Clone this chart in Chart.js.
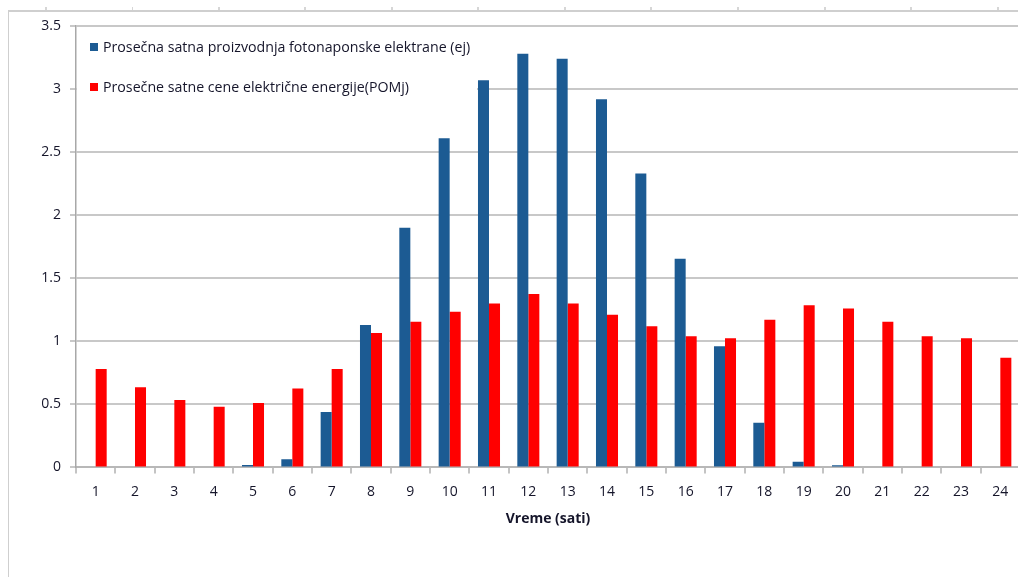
<!DOCTYPE html>
<html>
<head>
<meta charset="utf-8">
<script src="https://cdn.jsdelivr.net/npm/chart.js@4.4.0/dist/chart.umd.min.js"></script>
<style>
  html, body { margin: 0; padding: 0; background: #fff; overflow: hidden; width: 1018px; height: 577px; }
  #frame { position: absolute; left: 8px; top: 10px; width: 1100px; height: 600px;
           border-left: 1.5px solid #cfcfcf; border-top: 2px solid #cfcfcf; }
  #ruler { position: absolute; left: 0; top: 7px; width: 1018px; height: 3px;
           background: repeating-linear-gradient(to right, transparent 0 45px, #d6d6d6 45px 47px, transparent 47px 86.5px); }
  #wrap { position: absolute; left: 0; top: 0; width: 1020px; height: 577px; }
</style>
</head>
<body>
<div id="ruler"></div>
<div id="frame"></div>
<div id="wrap"><canvas id="c" width="1020" height="577"></canvas></div>
<script>
const hours = ['1','2','3','4','5','6','7','8','9','10','11','12','13','14','15','16','17','18','19','20','21','22','23','24'];
const production = [0, 0, 0, 0, 0.02, 0.065, 0.44, 1.13, 1.90, 2.61, 3.07, 3.28, 3.24, 2.92, 2.33, 1.655, 0.96, 0.355, 0.044, 0.017, 0, 0, 0, 0];
const price = [0.78, 0.635, 0.535, 0.48, 0.51, 0.625, 0.78, 1.065, 1.155, 1.235, 1.30, 1.375, 1.30, 1.21, 1.12, 1.04, 1.025, 1.17, 1.285, 1.26, 1.155, 1.04, 1.025, 0.87];
const yTickLabels = ['0', '0.5', '1', '1.5', '2', '2.5', '3', '3.5'];
const seriesNames = ['Prosečna satna proizvodnja fotonaponske elektrane (ej)', 'Prosečne satne cene električne energije(POMj)'];
const xTitle = 'Vreme (sati)';

const FONT = '"Open Sans", "Noto Sans", sans-serif';
const TEXT = '#15152a';

const legendPlugin = {
  id: 'vlegend',
  afterDatasetsDraw(chart) {
    const ctx = chart.ctx;
    const ca = chart.chartArea;
    ctx.save();
    ctx.fillStyle = '#fff';
    ctx.fillRect(ca.left + 1, ca.top + 4, 400, 76);
    ctx.font = '14.2px ' + FONT;
    ctx.textBaseline = 'middle';
    chart.data.datasets.forEach((ds, i) => {
      const y = ca.top + 22 + i * 40;
      ctx.fillStyle = ds.backgroundColor;
      ctx.fillRect(ca.left + 14, y - 5, 8, 8);
      ctx.fillStyle = TEXT;
      ctx.fillText(ds.label, ca.left + 27, y);
    });
    ctx.restore();
  }
};

new Chart(document.getElementById('c'), {
  type: 'bar',
  data: {
    labels: hours,
    datasets: [
      { label: seriesNames[0], data: production, backgroundColor: '#1c5b93', borderWidth: 0 },
      { label: seriesNames[1], data: price, backgroundColor: '#ff0000', borderWidth: 0 }
    ]
  },
  options: {
    responsive: false,
    animation: false,
    devicePixelRatio: 1,
    layout: { padding: { left: 0, right: 0, top: 26, bottom: 39 } },
    plugins: { legend: { display: false }, tooltip: { enabled: false } },
    datasets: { bar: { categoryPercentage: 0.56, barPercentage: 1.0 } },
    scales: {
      x: {
        grid: { display: true, drawOnChartArea: false, drawTicks: true, tickLength: 6, color: '#c4c4c4', lineWidth: 2, offset: true },
        border: { color: '#b8b8b8', width: 2 },
        ticks: { color: TEXT, font: { family: FONT, size: 14 }, padding: 10, maxRotation: 0 },
        title: { display: true, text: xTitle, color: TEXT, font: { family: FONT, size: 14, weight: 'bold' }, padding: { top: 0, bottom: 11 } }
      },
      y: {
        min: 0, max: 3.5,
        afterFit(scale) { scale.width = 76; },
        ticks: { stepSize: 0.5, color: TEXT, font: { family: FONT, size: 14 }, padding: 9,
                 callback: (v, i) => yTickLabels[i] },
        grid: { color: '#c8c8c8', lineWidth: 2, tickLength: 6 },
        border: { color: '#a8a8a8', width: 1.5 }
      }
    }
  },
  plugins: [legendPlugin]
});
</script>
</body>
</html>
